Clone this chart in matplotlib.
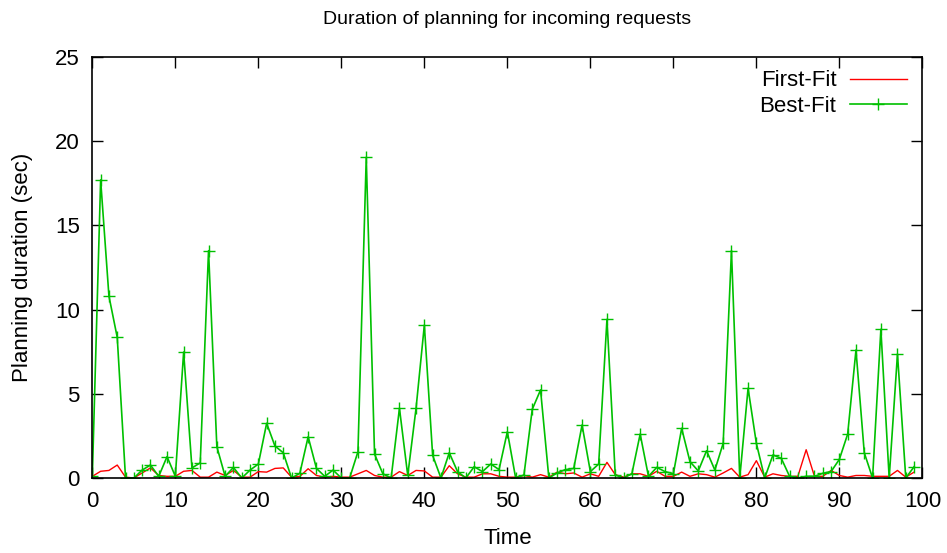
import matplotlib
matplotlib.use("Agg")
from matplotlib import pyplot as plt
import numpy as np

plt.rcParams['font.family'] = ['Liberation Sans', 'DejaVu Sans']

# time steps 0..99
time = np.arange(100)

first_fit = [
    0.1, 0.4, 0.45, 0.77, 0.05, 0.0, 0.3, 0.6, 0.15, 0.1,
    0.1, 0.4, 0.45, 0.05, 0.05, 0.35, 0.15, 0.45, 0.05, 0.05,
    0.38, 0.35, 0.57, 0.6, 0.05, 0.1, 0.55, 0.15, 0.05, 0.1,
    0.05, 0.05, 0.25, 0.45, 0.15, 0.05, 0.05, 0.38, 0.15, 0.45,
    0.42, 0.05, 0.05, 0.73, 0.25, 0.05, 0.05, 0.25, 0.25, 0.1,
    0.05, 0.05, 0.15, 0.05, 0.2, 0.05, 0.35, 0.25, 0.3, 0.05,
    0.25, 0.1, 0.93, 0.2, 0.05, 0.25, 0.25, 0.1, 0.4, 0.1,
    0.1, 0.35, 0.1, 0.25, 0.2, 0.05, 0.3, 0.57, 0.05, 0.2,
    1.03, 0.05, 0.25, 0.15, 0.1, 0.1, 1.68, 0.1, 0.1, 0.45,
    0.15, 0.05, 0.15, 0.15, 0.1, 0.1, 0.1, 0.45, 0.05, 0.35,
]

best_fit = [
    0.1, 17.7, 10.8, 8.35, 0.0, 0.0, 0.47, 0.77, 0.1, 1.27,
    0.1, 7.48, 0.6, 0.9, 13.5, 1.86, 0.1, 0.63, 0.0, 0.47,
    0.83, 3.25, 1.9, 1.5, 0.0, 0.28, 2.45, 0.57, 0.1, 0.47,
    0.0, 0.0, 1.56, 19.04, 1.42, 0.25, 0.0, 4.14, 0.15, 4.14,
    9.08, 1.34, 0.0, 1.5, 0.38, 0.0, 0.67, 0.38, 0.83, 0.5,
    2.75, 0.0, 0.18, 4.08, 5.23, 0.0, 0.3, 0.5, 0.57, 3.15,
    0.38, 0.83, 9.42, 0.18, 0.0, 0.25, 2.61, 0.1, 0.63, 0.38,
    0.25, 2.95, 0.97, 0.42, 1.62, 0.47, 2.06, 13.5, 0.0, 5.33,
    2.06, 0.0, 1.37, 1.17, 0.1, 0.0, 0.1, 0.1, 0.28, 0.38,
    1.11, 2.61, 7.6, 1.5, 0.0, 8.83, 0.0, 7.36, 0.0, 0.67,
]

fig = plt.figure(figsize=(9.47, 5.53), dpi=100)
ax = fig.add_axes([0.0975, 0.1356, 0.8765, 0.7614])

ax.plot(time, first_fit, color='#ff0000', lw=1.0, label='First-Fit')
ax.plot(time, best_fit, color='#00c000', lw=1.2, marker='+', ms=9, mew=1.0,
        label='Best-Fit')

ax.set_xlim(0, 100)
ax.set_ylim(0, 25)
ax.set_xticks(np.arange(0, 101, 10))
ax.set_yticks(np.arange(0, 26, 5))
ax.tick_params(direction='in', length=8, width=1, top=True, right=True,
               labelsize=16, pad=9)
for s in ax.spines.values():
    s.set_linewidth(1.2)

ax.set_xlabel('Time', fontsize=16, labelpad=12)
ax.set_ylabel('Planning duration (sec)', fontsize=16, labelpad=16)
ax.set_title('Duration of planning for incoming requests', fontsize=14, pad=24)

ax.legend(loc='upper right', bbox_to_anchor=(0.998, 1.0), frameon=False,
          markerfirst=False, fontsize=16, handlelength=2.6,
          borderaxespad=0.2, labelspacing=0.2, handletextpad=0.6)

fig.savefig('out.png', dpi=100)
